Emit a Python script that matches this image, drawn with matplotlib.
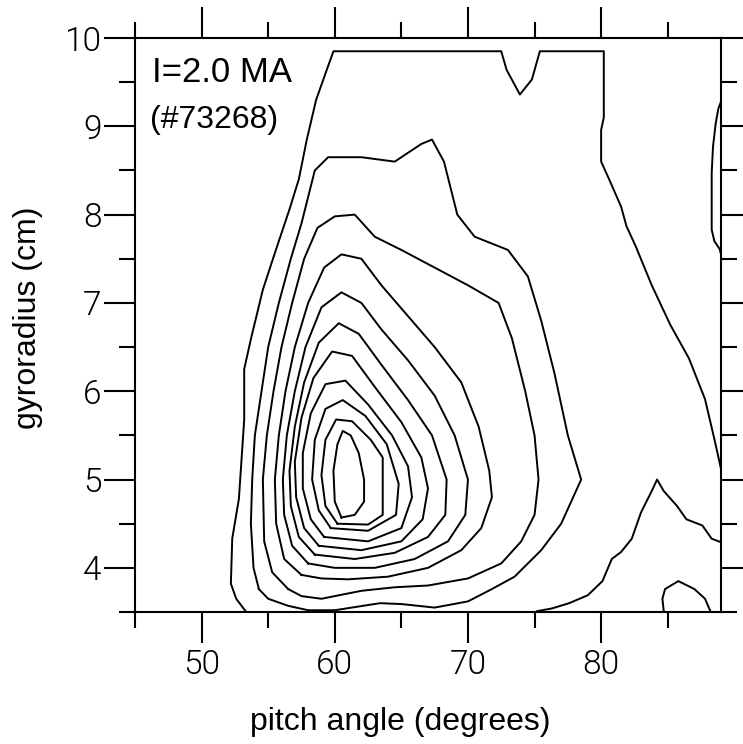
import matplotlib
matplotlib.use("Agg")
import matplotlib.pyplot as plt
from matplotlib.ticker import MultipleLocator
from matplotlib.font_manager import FontProperties

# ---- data: contour lines (pitch angle [deg], gyroradius [cm]) ----
# outermost level, main branch (bottom-left -> top -> right edge)
A_x = [53.3, 52.6, 52.2, 52.3, 52.8, 53.0, 53.2, 53.2, 53.7, 54.6, 55.6, 56.6, 57.3, 57.9, 58.6, 59.4, 59.9,
       72.5, 72.9, 73.9, 74.8, 75.4, 80.2, 80.2, 80.0, 80.0, 80.6, 81.5, 81.9, 82.6, 83.8, 85.2, 86.6, 87.8, 88.5, 89.0]
A_y = [3.51, 3.65, 3.82, 4.33, 4.78, 5.23, 5.68, 6.25, 6.59, 7.15, 7.61, 8.06, 8.40, 8.85, 9.30, 9.64, 9.85,
       9.85, 9.64, 9.36, 9.53, 9.85, 9.85, 9.10, 8.96, 8.60, 8.40, 8.09, 7.87, 7.64, 7.20, 6.75, 6.37, 5.91, 5.46, 5.12]
# same level, bottom-right branch (right edge -> bottom)
P_x = [89.0, 88.3, 87.6, 86.4, 85.7, 84.7, 84.2, 83.8, 83.0, 82.3, 81.5, 80.8, 80.1, 79.0, 77.6, 76.3, 75.2]
P_y = [4.29, 4.33, 4.48, 4.55, 4.70, 4.87, 5.00, 4.87, 4.63, 4.33, 4.18, 4.10, 3.85, 3.69, 3.60, 3.54, 3.51]
# small closed region at bottom right
Q_x = [84.7, 84.6, 84.8, 85.8, 87.0, 87.8, 88.2]
Q_y = [3.51, 3.65, 3.76, 3.85, 3.76, 3.65, 3.51]
# thin sliver at right edge
R_x = [89.0, 88.8, 88.6, 88.4, 88.3, 88.3, 88.5, 88.9, 89.0]
R_y = [9.28, 9.20, 9.03, 8.77, 8.47, 7.83, 7.70, 7.61, 7.55]
# nested closed levels, outer to inner
B_x = [54.3, 53.9, 53.7, 53.8, 54.0, 54.5, 55.0, 55.8, 56.7, 57.5, 58.5, 59.5, 62.0, 64.5, 66.5, 67.3, 68.2,
       69.2, 70.5, 73.0, 74.5, 75.5, 76.5, 77.5, 78.5, 77.0, 75.5, 73.5, 71.8, 70.0, 67.5, 65.0, 63.4, 60.0,
       58.0, 56.5, 55.0, 54.3]
B_y = [3.76, 4.0, 4.5, 5.0, 5.5, 6.0, 6.5, 7.0, 7.5, 7.9, 8.5, 8.65, 8.65, 8.6, 8.8, 8.85, 8.6,
       8.0, 7.75, 7.6, 7.3, 6.8, 6.2, 5.5, 5.0, 4.5, 4.2, 3.9, 3.76, 3.62, 3.55, 3.59, 3.6, 3.52,
       3.52, 3.57, 3.65, 3.76]
C_x = [56.5, 55.3, 54.7, 54.6, 54.9, 55.4, 56.0, 56.8, 57.7, 58.7, 60.0, 61.5, 63.0, 65.0, 67.5, 70.0, 72.3,
       73.3, 74.3, 75.0, 75.3, 75.0, 74.0, 72.5, 70.0, 67.0, 64.5, 62.0, 59.0, 57.5, 56.5]
C_y = [3.76, 3.95, 4.3, 5.0, 5.5, 6.0, 6.5, 7.0, 7.5, 7.85, 7.98, 8.0, 7.75, 7.6, 7.4, 7.2, 7.0,
       6.6, 6.0, 5.5, 5.0, 4.6, 4.3, 4.05, 3.88, 3.8, 3.78, 3.74, 3.65, 3.68, 3.76]
D_x = [57.5, 56.2, 55.6, 55.5, 55.8, 56.3, 57.0, 58.0, 59.2, 60.5, 62.0, 63.5, 65.5, 67.5, 69.5, 70.8, 71.6,
       71.8, 71.0, 69.5, 67.0, 64.0, 61.0, 59.0, 57.5]
D_y = [3.92, 4.1, 4.5, 5.0, 5.5, 6.0, 6.5, 7.0, 7.4, 7.55, 7.5, 7.2, 6.85, 6.5, 6.1, 5.6, 5.1,
       4.8, 4.45, 4.2, 4.0, 3.9, 3.87, 3.88, 3.92]
E_x = [58.0, 56.8, 56.2, 56.1, 56.4, 57.0, 57.8, 59.0, 60.5, 62.0, 63.5, 65.5, 67.5, 69.0, 70.0, 69.8, 68.5,
       66.0, 63.0, 60.0, 58.0]
E_y = [4.05, 4.25, 4.6, 5.0, 5.5, 6.0, 6.5, 6.95, 7.12, 7.0, 6.7, 6.35, 5.95, 5.5, 5.0, 4.6, 4.3,
       4.1, 4.0, 4.0, 4.05]
F_x = [58.5, 57.3, 56.7, 56.6, 57.0, 57.7, 58.8, 60.3, 61.8, 63.5, 65.5, 67.3, 68.4, 68.3, 67.0, 64.5, 61.5, 58.5]
F_y = [4.15, 4.35, 4.7, 5.1, 5.6, 6.1, 6.55, 6.77, 6.65, 6.3, 5.9, 5.5, 5.0, 4.6, 4.35, 4.17, 4.1, 4.15]
G_x = [58.8, 57.7, 57.1, 57.0, 57.5, 58.4, 59.8, 61.3, 63.0, 65.0, 66.5, 67.0, 66.6, 65.0, 62.0, 58.8]
G_y = [4.25, 4.45, 4.8, 5.2, 5.7, 6.15, 6.45, 6.4, 6.05, 5.65, 5.25, 4.9, 4.55, 4.3, 4.2, 4.25]
H_x = [59.2, 58.2, 57.6, 57.6, 58.2, 59.3, 60.8, 62.5, 64.3, 65.5, 65.8, 65.0, 62.5, 59.2]
H_y = [4.35, 4.55, 4.9, 5.3, 5.75, 6.08, 6.12, 5.85, 5.5, 5.15, 4.8, 4.45, 4.3, 4.35]
I_x = [59.7, 58.8, 58.3, 58.5, 59.3, 60.6, 62.3, 63.9, 64.8, 64.6, 62.5, 59.7]
I_y = [4.45, 4.65, 5.0, 5.45, 5.8, 5.9, 5.72, 5.4, 4.95, 4.6, 4.42, 4.45]
J_x = [60.2, 59.3, 59.0, 59.3, 60.1, 61.3, 62.7, 63.6, 63.6, 62.5, 60.2]
J_y = [4.5, 4.7, 5.05, 5.45, 5.68, 5.66, 5.45, 5.25, 4.6, 4.49, 4.5]
K_x = [60.5, 60.0, 59.9, 60.2, 60.6, 61.2, 61.8, 62.2, 62.2, 61.5, 60.5]
K_y = [4.57, 4.75, 5.1, 5.4, 5.55, 5.5, 5.3, 5.0, 4.75, 4.6, 4.57]

contours = [(A_x, A_y), (P_x, P_y), (Q_x, Q_y), (R_x, R_y), (B_x, B_y), (C_x, C_y), (D_x, D_y),
            (E_x, E_y), (F_x, F_y), (G_x, G_y), (H_x, H_y), (I_x, I_y), (J_x, J_y), (K_x, K_y)]

x_major = [50, 60, 70, 80]
y_major = [4, 5, 6, 7, 8, 9, 10]

fig = plt.figure(figsize=(7.43, 7.44), dpi=100)
ax = fig.add_axes([135 / 743, 1 - 612 / 744, 586 / 743, 574 / 744])

for cx, cy in contours:
    ax.plot(cx, cy, color="black", lw=1.4, solid_joinstyle="round")

ax.set_xlim(45, 89)
ax.set_ylim(3.5, 10)
ax.set_xticks(x_major)
ax.set_yticks(y_major)
ax.xaxis.set_minor_locator(MultipleLocator(5))
ax.yaxis.set_minor_locator(MultipleLocator(0.5))

for s in ax.spines.values():
    s.set_linewidth(1.5)

ax.tick_params(which="both", direction="out", top=True, right=True,
               labeltop=False, labelright=False, width=1.5, colors="black")
ax.tick_params(which="major", length=22)
ax.tick_params(which="minor", length=11.5)
ax.tick_params(axis="x", which="major", pad=5)
ax.tick_params(axis="y", which="major", pad=2)

tick_fp = FontProperties(family=["Roboto", "DejaVu Sans"], weight=300, size=24)
for lab in ax.get_xticklabels() + ax.get_yticklabels():
    lab.set_fontproperties(tick_fp)
    lab.set_color("black")

label_font = dict(family="Liberation Sans", size=23)
ax.set_xlabel("pitch angle (degrees)", **label_font)
ax.set_ylabel("gyroradius (cm)", **label_font)
ax.xaxis.set_label_coords((400 - 135) / 586, -0.165)
ax.yaxis.set_label_coords(-0.157, 0.512)

ax.text(0.029, 0.923, "I=2.0 MA", transform=ax.transAxes, family="Liberation Sans",
        size=25, va="baseline", ha="left")
ax.text(0.026, 0.843, "(#73268)", transform=ax.transAxes, family="Liberation Sans",
        size=23, va="baseline", ha="left")

fig.savefig("out.png", dpi=100)
